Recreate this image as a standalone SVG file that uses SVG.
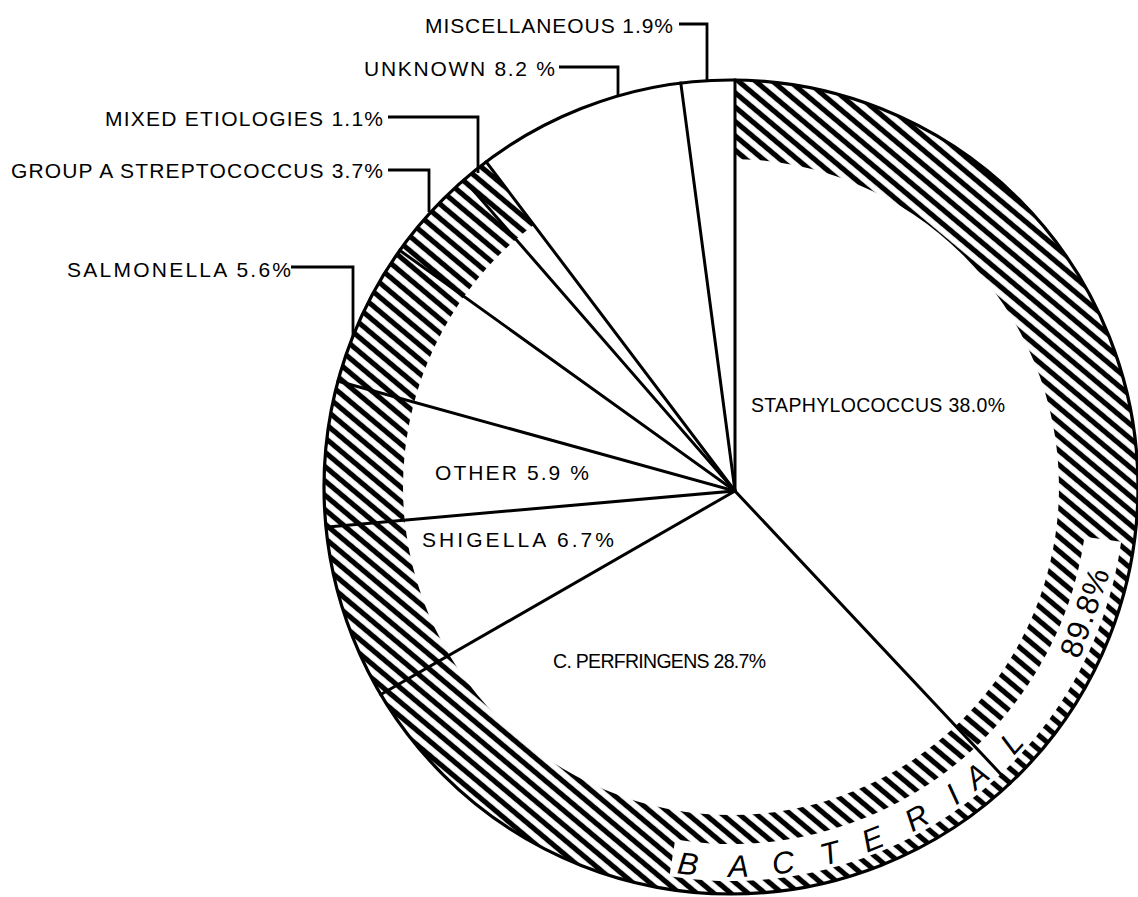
<svg xmlns="http://www.w3.org/2000/svg" width="1138" height="897" viewBox="0 0 1138 897">
<defs>
<pattern id="hatch" width="11" height="11" patternUnits="userSpaceOnUse" patternTransform="rotate(40)">
<rect width="11" height="11" fill="#fff"/>
<line x1="0" y1="5.5" x2="11" y2="5.5" stroke="#000" stroke-width="5.2"/>
</pattern>
<style>
.lbl{font-family:"Liberation Sans",Arial,sans-serif;font-size:21px;fill:#000}
.sm{font-size:19.5px}
.big{font-family:"Liberation Sans",Arial,sans-serif;font-size:31px;fill:#000;text-anchor:middle}
.ital{font-style:italic}
.ln{stroke:#000;stroke-width:3;fill:none;stroke-linecap:square}
.ld{stroke:#000;stroke-width:2.8;fill:none}
</style>
</defs>
<rect width="1138" height="897" fill="#fff"/>
<g id="ring">
<path d="M324 487a407 407 0 1 0 814 0a407 407 0 1 0 -814 0ZM403 487a328 328 0 1 0 656 0a328 328 0 1 0 -656 0Z" fill="url(#hatch)" fill-rule="evenodd"/>
<polygon points="735,491 313.5,-68 735,-68" fill="#fff"/>
<path d="M669.4 876.2A394 394 0 0 0 1121.2 541.8L1084.5 536.7A357 357 0 0 1 675.2 839.6Z" fill="#fff"/>
</g>
<g id="connectors">
<line class="ln" x1="735" y1="491" x2="735" y2="80"/>
<line class="ln" x1="735" y1="491" x2="1009.7" y2="783.6"/>
<line class="ln" x1="735" y1="491" x2="380.8" y2="694.5"/>
<line class="ln" x1="735" y1="491" x2="326.5" y2="527"/>
<line class="ln" x1="735" y1="491" x2="338" y2="381.1"/>
<line class="ln" x1="735" y1="491" x2="399.8" y2="250.4"/>
<line class="ln" x1="735" y1="491" x2="464.1" y2="179.8"/>
<line class="ln" x1="735" y1="491" x2="486.2" y2="161.8"/>
<line class="ln" x1="735" y1="491" x2="680.8" y2="83.1"/>
<polyline class="ld" points="679,24 707,24 707,81"/>
<polyline class="ld" points="559,67 618,67 618,97"/>
<polyline class="ld" points="388,117 478,117 478,173"/>
<polyline class="ld" points="388,170 429,170 429,212"/>
<polyline class="ld" points="291,267 353,267 353,337"/>
</g>
<circle id="outline" cx="731" cy="487" r="407" fill="none" stroke="#000" stroke-width="3.2"/>
<g id="n-misc"><text class="lbl" x="425" y="33" textLength="248">MISCELLANEOUS 1.9%</text></g>
<g id="n-unknown"><text class="lbl" x="364" y="76" textLength="191">UNKNOWN 8.2 %</text></g>
<g id="n-mixed"><text class="lbl" x="105" y="126" textLength="278">MIXED ETIOLOGIES 1.1%</text></g>
<g id="n-groupa"><text class="lbl" x="11" y="178" textLength="372">GROUP A STREPTOCOCCUS 3.7%</text></g>
<g id="n-salmonella"><text class="lbl" x="67" y="277" textLength="224">SALMONELLA 5.6%</text></g>
<g id="n-staph"><text class="lbl sm" x="751" y="412" textLength="254">STAPHYLOCOCCUS 38.0%</text></g>
<g id="n-other"><text class="lbl" x="435" y="480" textLength="154">OTHER 5.9 %</text></g>
<g id="n-shigella"><text class="lbl" x="422" y="547" textLength="192">SHIGELLA 6.7%</text></g>
<g id="n-cperf"><text class="lbl sm" x="553" y="668" textLength="213">C. PERFRINGENS 28.7%</text></g>
<g id="n-bacterial">
<text class="big ital" transform="translate(688.1,863.6) rotate(6.5)" y="11">B</text>
<text class="big ital" transform="translate(738.3,865.9) rotate(-1.1)" y="11">A</text>
<text class="big ital" transform="translate(783.1,862.4) rotate(-7.9)" y="11">C</text>
<text class="big ital" transform="translate(829.7,852.9) rotate(-15.1)" y="11">T</text>
<text class="big ital" transform="translate(872.4,838.6) rotate(-21.9)" y="11">E</text>
<text class="big ital" transform="translate(916.5,817.5) rotate(-29.3)" y="11">R</text>
<text class="big ital" transform="translate(952.7,794.4) rotate(-35.8)" y="11">I</text>
<text class="big ital" transform="translate(976.6,775.6) rotate(-40.4)" y="11">A</text>
<text class="big ital" transform="translate(1011.3,742.1) rotate(-47.7)" y="11">L</text>
<text class="big" transform="translate(1084.5,612.2) rotate(-70.5)" y="11" letter-spacing="1">89.8%</text>
</g>
</svg>
